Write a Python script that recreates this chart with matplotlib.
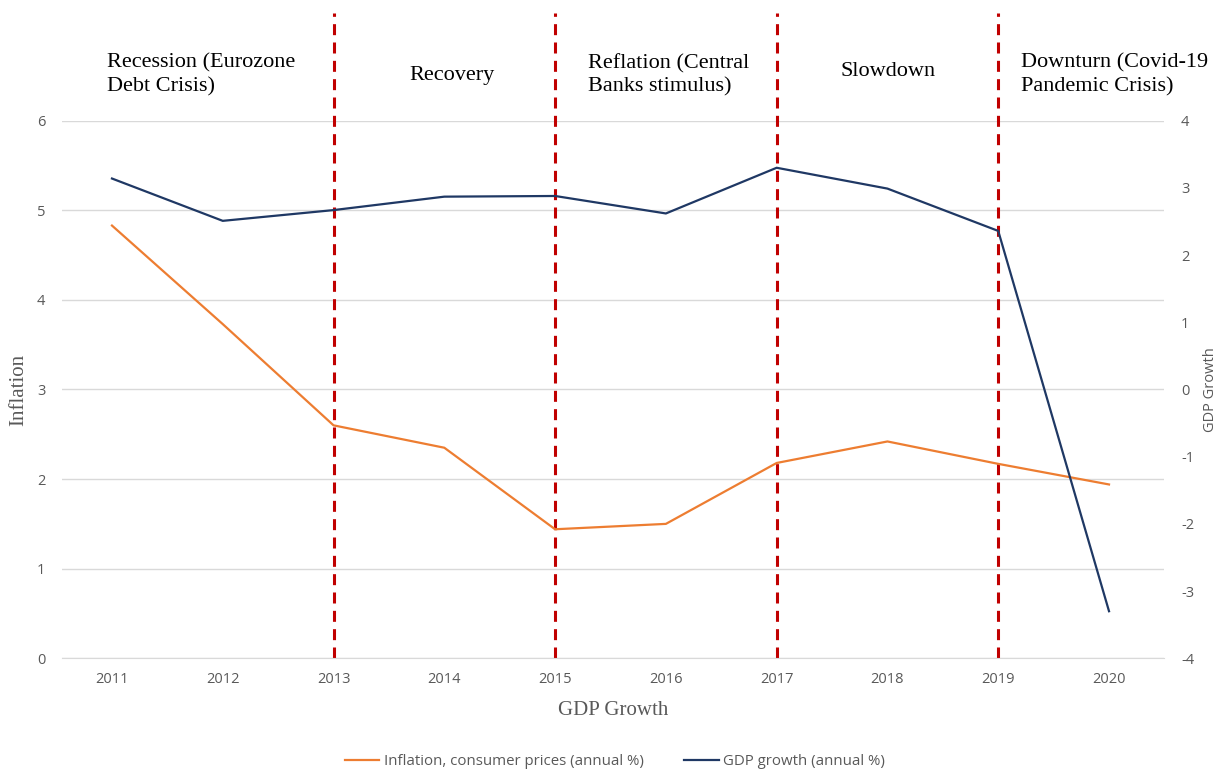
import matplotlib.pyplot as plt

plt.rcParams['axes.unicode_minus'] = False

years = [2011, 2012, 2013, 2014, 2015, 2016, 2017, 2018, 2019, 2020]
inflation = [4.83, 3.73, 2.60, 2.35, 1.44, 1.50, 2.18, 2.42, 2.17, 1.94]
gdp_growth = [3.14, 2.51, 2.67, 2.87, 2.88, 2.62, 3.30, 2.99, 2.36, -3.30]

phase_lines = [2013, 2015, 2017, 2019]
phase_names = ["Recession (Eurozone\nDebt Crisis)", "Recovery",
               "Reflation (Central\nBanks stimulus)", "Slowdown",
               "Downturn (Covid-19\nPandemic Crisis)"]

GRAY = "#595959"
SERIF = ["Liberation Serif", "DejaVu Serif"]
SANS = ["Open Sans", "DejaVu Sans"]

fig = plt.figure(figsize=(12.18, 7.69), dpi=100)
ax = fig.add_axes([0.051, 0.144, 0.905, 0.699])
ax2 = ax.twinx()

l1, = ax.plot(years, inflation, color="#ED7D31", lw=1.6,
              label="Inflation, consumer prices (annual %)")
l2, = ax2.plot(years, gdp_growth, color="#1F3864", lw=1.6,
               label="GDP growth (annual %)")

ax.set_xlim(2010.55, 2020.5)
ax.set_ylim(0, 6)
ax2.set_ylim(-4, 4)
ax.set_xticks(years)
ax.set_yticks(range(0, 7))
ax2.set_yticks(range(-4, 5))

ax.grid(axis="y", color="#D9D9D9", lw=1)
ax.set_axisbelow(True)
for a in (ax, ax2):
    for s in a.spines.values():
        s.set_visible(False)
    a.tick_params(length=0, colors=GRAY, labelsize=10.5)
    for t in a.get_xticklabels() + a.get_yticklabels():
        t.set_family(SANS)
ax.spines["bottom"].set_visible(True)
ax.spines["bottom"].set_color("#D9D9D9")
ax.tick_params(axis="x", pad=10)
ax.tick_params(axis="y", pad=12)
ax2.tick_params(axis="y", pad=12)

ax.set_xlabel("GDP Growth", family=SERIF, fontsize=15, color=GRAY, labelpad=10)
ax.set_ylabel("Inflation", family=SERIF, fontsize=15, color=GRAY, labelpad=6)
ax2.set_ylabel("GDP Growth", family=SANS, fontsize=10.5, color=GRAY, labelpad=6)

for x in phase_lines:
    ax.axvline(x, ymin=0, ymax=1.2, color="#C00000", lw=2.2,
               ls=(0, (3.6, 2.4)), clip_on=False, zorder=1)

text_kw = dict(family=SERIF, fontsize=16, color="#000000", va="center",
               linespacing=1.3)
ax.text(2010.955, 6.51, phase_names[0], ha="left", **text_kw)
ax.text(2014.07, 6.50, phase_names[1], ha="center", **text_kw)
ax.text(2015.30, 6.51, phase_names[2], ha="left", **text_kw)
ax.text(2018.01, 6.55, phase_names[3], ha="center", **text_kw)
ax.text(2019.21, 6.51, phase_names[4], ha="left", **text_kw)

leg = fig.legend(handles=[l1, l2], loc="center", bbox_to_anchor=(0.505, 0.01),
                 ncol=2, frameon=False, fontsize=10.8, handlelength=2.3,
                 handletextpad=0.3, columnspacing=2.7, labelcolor=GRAY)
for t in leg.get_texts():
    t.set_family(SANS)

fig.savefig("out.png", dpi=100)
